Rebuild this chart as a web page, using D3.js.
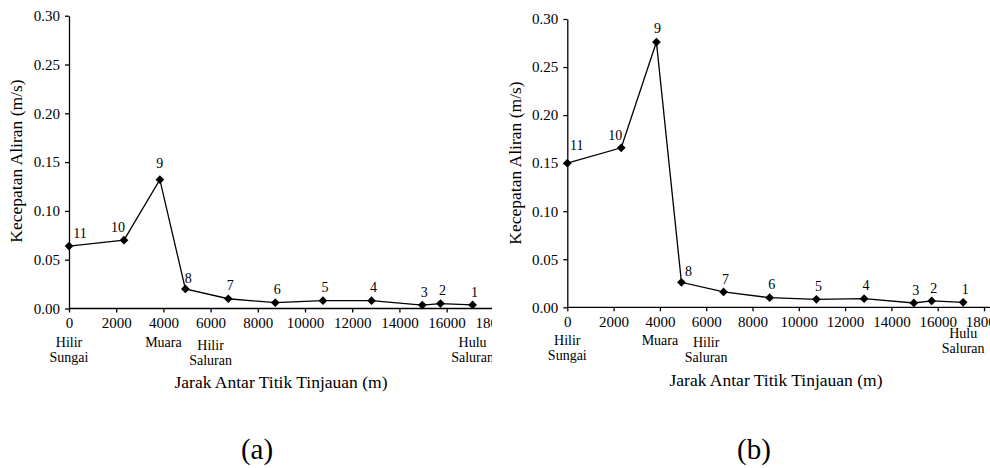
<!DOCTYPE html>
<html>
<head>
<meta charset="utf-8">
<script src="https://cdn.jsdelivr.net/npm/d3@7"></script>
<style>
  body { margin: 0; background: #fff; }
</style>
</head>
<body>
<div id="my_dataviz"></div>
<script>
  // titik tinjauan (dari hilir ke hulu)
  var pointIds  = [11, 10, 9, 8, 7, 6, 5, 4, 3, 2, 1];
  var distance  = [0, 2330, 3850, 4930, 6750, 8740, 10760, 12820, 14970, 15740, 17100];
  var velocityA = [0.064, 0.070, 0.132, 0.020, 0.010, 0.006, 0.008, 0.008, 0.0035, 0.005, 0.0037];
  var velocityB = [0.150, 0.166, 0.276, 0.026, 0.016, 0.010, 0.0083, 0.009, 0.0045, 0.0066, 0.0052];
  var xTicks = [0, 2000, 4000, 6000, 8000, 10000, 12000, 14000, 16000, 18000];
  var yTicks = [0, 0.05, 0.10, 0.15, 0.20, 0.25, 0.30];
  var placeNames = [["Hilir", "Sungai"], ["Muara"], ["Hilir", "Saluran"], ["Hulu", "Saluran"]];
  var placeAt = [0, 4000, 6000, 17100];

  var svg = d3.select("#my_dataviz")
    .append("svg")
    .attr("width", 990)
    .attr("height", 468);

  var panels = [
    { id: "a", values: velocityA, x0: 69, x1: 493.8, y0: 308.5, y1: 15.7, clip: 492,
      yTitleX: 18, yTitleY: 161, xTitleX: 281, xTitleY: 388, tagX: 257,
      placeDy: [0, 0, 3, 0],
      lab: { 11: [11, -11.5], 10: [-6, -11], 9: [0, -15], 8: [3, -9] } },
    { id: "b", values: velocityB, x0: 567.3, x1: 984, y0: 307.3, y1: 19, clip: 990,
      yTitleX: 517, yTitleY: 163, xTitleX: 776, xTitleY: 386, tagX: 754,
      placeDy: [0, 0, 2, -7],
      lab: { 11: [9.5, -16], 10: [-6, -10.5], 9: [1, -12.5], 8: [7, -9.5] } }
  ];

  panels.forEach(function(p) {
    var x = d3.scaleLinear().domain([0, 18000]).range([p.x0, p.x1]);
    var y = d3.scaleLinear().domain([0, 0.30]).range([p.y0, p.y1]);

    svg.append("clipPath").attr("id", "clip" + p.id)
      .append("rect").attr("x", 0).attr("y", 0).attr("width", p.clip).attr("height", 468);

    var g = svg.append("g").attr("clip-path", "url(#clip" + p.id + ")");

    g.append("g")
      .attr("transform", "translate(" + p.x0 + ",0)")
      .call(d3.axisLeft(y).tickValues(yTicks).tickFormat(d3.format(".2f")).tickSize(4).tickPadding(5).tickSizeOuter(0));

    var xAxis = g.append("g")
      .attr("transform", "translate(0," + p.y0 + ")")
      .call(d3.axisBottom(x).tickValues(xTicks).tickFormat(function(d){ return d; }).tickSize(4).tickPadding(5).tickSizeOuter(0));
    // axis line runs on to the panel edge
    xAxis.select(".domain").attr("d", "M" + p.x0 + ",0H" + (p.clip + 10));

    g.selectAll(".tick text").attr("fill", "#000").style("font-size", "15px");
    g.selectAll(".domain, .tick line").attr("stroke", "#000").attr("stroke-width", 1.3);

    // nama lokasi di bawah sumbu x
    placeNames.forEach(function(lines, i) {
      var t = g.append("text")
        .attr("x", x(placeAt[i]))
        .attr("y", p.y0 + 38 + p.placeDy[i])
        .attr("text-anchor", "middle")
        .style("font-size", "14px");
      lines.forEach(function(s, j) {
        t.append("tspan").attr("x", x(placeAt[i])).attr("dy", j ? 15 : 0).text(s);
      });
    });

    var data = pointIds.map(function(id, i) { return { id: id, d: distance[i], v: p.values[i] }; });

    g.append("path")
      .datum(data)
      .attr("fill", "none")
      .attr("stroke", "#000")
      .attr("stroke-width", 1.3)
      .attr("d", d3.line().x(function(d){ return x(d.d); }).y(function(d){ return y(d.v); }));

    g.selectAll(".pt")
      .data(data)
      .enter().append("path")
      .attr("class", "pt")
      .attr("d", d3.symbol().type(d3.symbolSquare).size(38))
      .attr("transform", function(d){ return "translate(" + x(d.d) + "," + y(d.v) + ") rotate(45)"; })
      .attr("fill", "#000");

    g.selectAll(".lab")
      .data(data)
      .enter().append("text")
      .attr("class", "lab")
      .attr("x", function(d){ return x(d.d) + (p.lab[d.id] ? p.lab[d.id][0] : 2); })
      .attr("y", function(d){ return y(d.v) + (p.lab[d.id] ? p.lab[d.id][1] : -11.5); })
      .attr("text-anchor", "middle")
      .attr("dominant-baseline", "middle")
      .style("font-size", "14px")
      .text(function(d){ return d.id; });

    svg.append("text")
      .attr("transform", "translate(" + p.yTitleX + "," + p.yTitleY + ") rotate(-90)")
      .attr("text-anchor", "middle")
      .attr("dominant-baseline", "middle")
      .style("font-size", "17.5px")
      .text("Kecepatan Aliran (m/s)");

    svg.append("text")
      .attr("x", p.xTitleX)
      .attr("y", p.xTitleY)
      .attr("text-anchor", "middle")
      .style("font-size", "17.5px")
      .text("Jarak Antar Titik Tinjauan (m)");

    svg.append("text")
      .attr("x", p.tagX)
      .attr("y", 459)
      .attr("text-anchor", "middle")
      .style("font-size", "29px")
      .text("(" + p.id + ")");
  });

  // one serif face for every text
  svg.selectAll("g").attr("font-family", null);
  svg.selectAll("text, tspan").style("font-family", "Liberation Serif");
</script>
</body>
</html>
